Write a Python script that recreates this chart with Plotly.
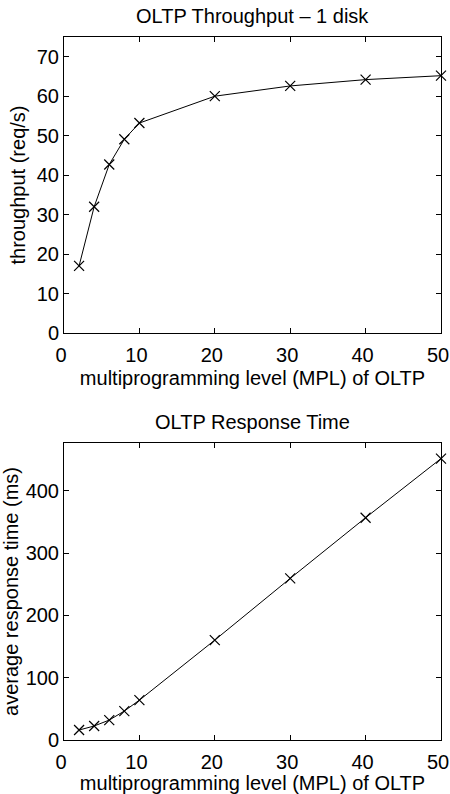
import plotly.graph_objects as go

mpl = [2, 4, 6, 8, 10, 20, 30, 40, 50]
throughput = [17.0, 32.0, 42.7, 49.1, 53.2, 60.0, 62.6, 64.2, 65.2]
response_ms = [16, 22.5, 32, 46.5, 64, 160.5, 259.5, 357, 452]

W, H = 450, 794
FONT = "Liberation Sans, Arial, sans-serif"
FS = 20

def fx(px):
    return px / W

def fy(px):
    return (H - px) / H

fig = go.Figure()
line_style = dict(color="black", width=1)
marker_style = dict(symbol="x-thin", size=10, line=dict(color="black", width=1.2), color="black")

fig.add_trace(go.Scatter(x=mpl, y=throughput, mode="lines+markers", line=line_style,
                         marker=marker_style, xaxis="x", yaxis="y", showlegend=False, cliponaxis=False,
                         hoverinfo="skip"))
fig.add_trace(go.Scatter(x=mpl, y=response_ms, mode="lines+markers", line=line_style,
                         marker=marker_style, xaxis="x2", yaxis="y2", showlegend=False, cliponaxis=False,
                         hoverinfo="skip"))

ax_common = dict(showline=True, linecolor="black", linewidth=1, mirror="allticks",
                 ticks="inside", ticklen=5, tickcolor="black", showgrid=False, zeroline=False,
                 automargin=False, ticklabeloverflow="allow",
                 tickfont=dict(family=FONT, size=FS, color="black"))

xt = dict(text="multiprogramming level (MPL) of OLTP", font=dict(size=FS), standoff=5)

fig.update_layout(
    width=W, height=H, margin=dict(l=0, r=0, t=0, b=0),
    paper_bgcolor="white", plot_bgcolor="white",
    font=dict(family=FONT, color="black"),
    xaxis=dict(domain=[fx(64), fx(441)], anchor="y", range=[0, 50], tickvals=[0, 10, 20, 30, 40, 50],
               ticklabelstandoff=4, ticklabelshift=-3, title=xt, **ax_common),
    yaxis=dict(domain=[fy(333), fy(37)], anchor="x", range=[0, 75], tickvals=[0, 10, 20, 30, 40, 50, 60, 70],
               title=dict(text="throughput (req/s)", font=dict(size=FS), standoff=5),
               **ax_common),
    xaxis2=dict(domain=[fx(64), fx(441)], anchor="y2", range=[0, 50], tickvals=[0, 10, 20, 30, 40, 50],
                ticklabelstandoff=4, ticklabelshift=-3, title=xt, **ax_common),
    yaxis2=dict(domain=[fy(740), fy(443)], anchor="x2", range=[0, 477], tickvals=[0, 100, 200, 300, 400],
                title=dict(text="average response time (ms)", font=dict(size=FS), standoff=5),
                **ax_common),
    annotations=[
        dict(text="OLTP Throughput \u2013 1 disk", x=fx(252), y=fy(15.5), xref="paper", yref="paper",
             showarrow=False, font=dict(size=FS, family=FONT), xanchor="center", yanchor="middle"),
        dict(text="OLTP Response Time", x=fx(252), y=fy(421.5), xref="paper", yref="paper",
             showarrow=False, font=dict(size=FS, family=FONT), xanchor="center", yanchor="middle"),
    ],
)

fig.write_html("out.html", config={"displayModeBar": False},
               post_script="document.body.style.margin='0';document.body.style.overflow='hidden';")
